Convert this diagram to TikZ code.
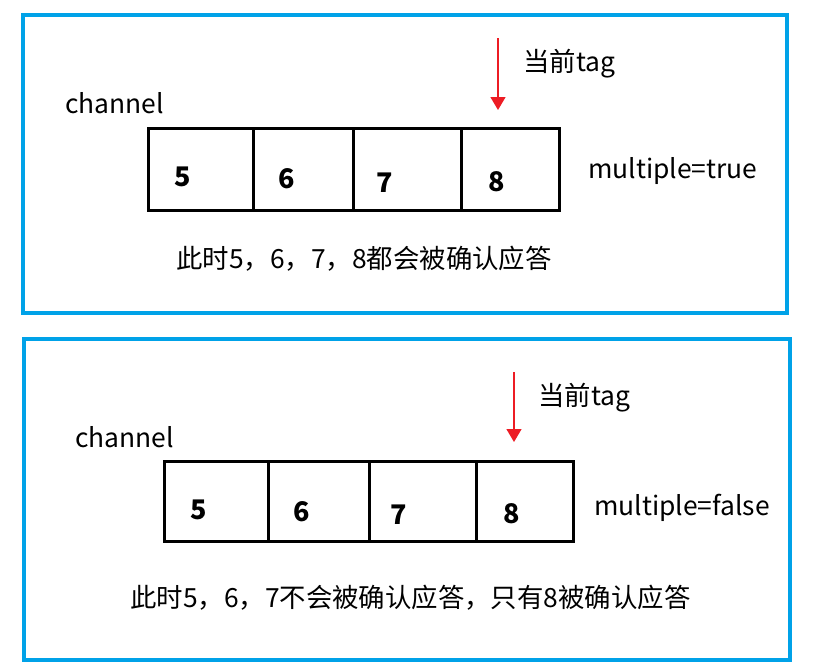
\documentclass[tikz,border=0pt]{standalone}
\usepackage{fontspec}
\setmainfont{Noto Sans CJK SC}
\usetikzlibrary{arrows.meta}
\definecolor{panelblue}{RGB}{0,162,232}
\definecolor{tagred}{RGB}{237,28,36}
\begin{document}
\begin{tikzpicture}[x=1pt,y=-1pt,
  panel/.style={draw=panelblue, line width=4pt, inner sep=0pt, rectangle},
  cell/.style={draw=black, line width=3pt, inner sep=0pt, rectangle, minimum height=#1},
  digit/.style={font=\fontsize{27}{30}\selectfont\bfseries, inner sep=0pt},
  label/.style={font=\fontsize{26.4}{30}\selectfont, inner sep=0pt, anchor=base west},
  tagarrow/.style={draw=tagred, line width=1.3pt, -{Triangle[width=15pt,length=13pt]}}
]
\useasboundingbox (0,0) rectangle (820,665);

% ---------- multiple = true ----------
\node[panel, minimum width=764.5pt, minimum height=297.5pt] (p1) at (404.75,163.75) {};
\node[cell=82pt, minimum width=104.5pt] (a1) at (200.75,169.5) {};
\node[cell=82pt, minimum width=100pt]   (a2) at (303,169.5) {};
\node[cell=82pt, minimum width=108pt]   (a3) at (407,169.5) {};
\node[cell=82pt, minimum width=98.5pt]  (a4) at (510.25,169.5) {};
\node[digit] (a1n) at (183,177) {5};
\node[digit] (a2n) at (287,179) {6};
\node[digit] (a3n) at (385,183) {7};
\node[digit] (a4n) at (497,182) {8};
\node[label] (ch1) at (65,113) {channel};
\node[label] (tg1) at (523,71) {当前tag};
\node[label] (mu1) at (588,178) {multiple=true};
\node[label] (ds1) at (176,268) {此时5，6，7，8都会被确认应答};
\coordinate (t1s) at (498,38);
\coordinate (t1e) at (498,110);
\draw[tagarrow] (t1s) -- (t1e);

% ---------- multiple = false ----------
\node[panel, minimum width=766pt, minimum height=321pt] (p2) at (407,499.5) {};
\node[cell=80pt, minimum width=103.5pt] (b1) at (216.25,501.5) {};
\node[cell=80pt, minimum width=101pt]   (b2) at (318.5,501.5) {};
\node[cell=80pt, minimum width=107pt]   (b3) at (422.5,501.5) {};
\node[cell=80pt, minimum width=97.5pt]  (b4) at (524.75,501.5) {};
\node[digit] (b1n) at (199,510) {5};
\node[digit] (b2n) at (302,512) {6};
\node[digit] (b3n) at (399,515) {7};
\node[digit] (b4n) at (512,514) {8};
\node[label] (ch2) at (75,447) {channel};
\node[label] (tg2) at (538,405) {当前tag};
\node[label] (mu2) at (594,515) {multiple=false};
\node[label] (ds2) at (130,607) {此时5，6，7不会被确认应答，只有8被确认应答};
\coordinate (t2s) at (514,372);
\coordinate (t2e) at (514,442);
\draw[tagarrow] (t2s) -- (t2e);
\end{tikzpicture}
\end{document}
